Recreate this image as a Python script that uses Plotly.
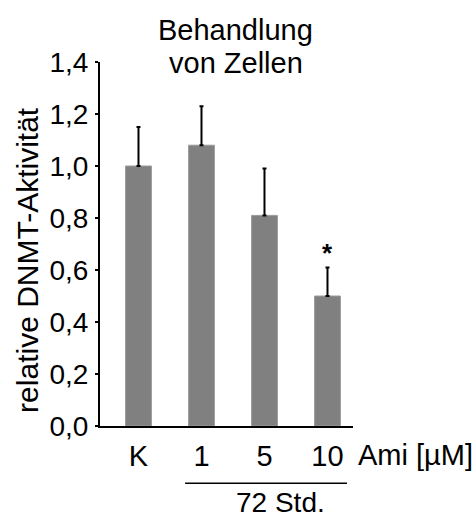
import plotly.graph_objects as go

categories = ["K", "1", "5", "10"]
values = [1.00, 1.08, 0.81, 0.50]
errors_up = [0.15, 0.15, 0.18, 0.11]
significance = ["", "", "", "*"]
y_ticks = [0.0, 0.2, 0.4, 0.6, 0.8, 1.0, 1.2, 1.4]
title_lines = ["Behandlung", "von Zellen"]
y_title = "relative DNMT-Aktivität"
unit_text = "Ami [µM]"
time_text = "72 Std."

FONT = "Liberation Sans, Arial, sans-serif"
xs = list(range(len(categories)))

fig = go.Figure()
fig.add_trace(go.Bar(
    x=xs, y=values, width=0.41,
    marker=dict(color="#808080", line=dict(color="#9a9a9a", width=1)),
    error_y=dict(type="data", array=errors_up, arrayminus=[0]*len(values),
                 symmetric=False, color="black", thickness=2, width=2),
    showlegend=False,
))

for x, v, e, s in zip(xs, values, errors_up, significance):
    if s:
        fig.add_annotation(x=x, y=v + e, text="<b>" + s + "</b>", showarrow=False,
                           yanchor="bottom", yshift=-3,
                           font=dict(family=FONT, size=26, color="black"))

for line, ypos in zip(title_lines, [1.088, 0.997]):
    fig.add_annotation(xref="paper", yref="paper", x=0.5375, y=ypos,
                       text=line, showarrow=False, xanchor="center", yanchor="middle",
                       font=dict(family=FONT, size=29, color="black"))

fig.add_annotation(xref="paper", yref="paper", x=1.012, y=-0.08,
                   text=unit_text, showarrow=False, xanchor="left", yanchor="middle",
                   font=dict(family=FONT, size=29, color="black"))

fig.add_shape(type="line", xref="x", yref="paper", x0=0.74, x1=3.31,
              y0=-0.157, y1=-0.157, line=dict(color="black", width=1.5))
fig.add_annotation(xref="x", yref="paper", x=2.25, y=-0.161,
                   text=time_text, showarrow=False, xanchor="center", yanchor="top",
                   font=dict(family=FONT, size=28, color="black"))

fig.add_annotation(xref="paper", yref="paper", x=-0.289, y=0.456,
                   text=y_title, textangle=-90, showarrow=False,
                   xanchor="center", yanchor="middle",
                   font=dict(family=FONT, size=30, color="black"))

fig.update_layout(
    width=476, height=512,
    margin=dict(l=100, r=123, t=62, b=86),
    paper_bgcolor="white", plot_bgcolor="white",
    separators=",.",
    font=dict(family=FONT, color="black"),
    xaxis=dict(range=[-0.611, 3.405], tickmode="array", tickvals=xs, ticktext=categories,
               showline=True, linecolor="black", linewidth=2, ticks="",
               showgrid=False, zeroline=False, tickfont=dict(size=29),
               ticklabelstandoff=3),
    yaxis=dict(range=[0, 1.4], tickmode="array", tickvals=y_ticks, tickformat=".1f",
               showline=True, linecolor="black", linewidth=2, ticks="outside",
               ticklen=3, tickwidth=1.5, tickcolor="black",
               showgrid=False, zeroline=False, tickfont=dict(size=28),
               ticklabelstandoff=1),
)

fig.write_html("out.html")
